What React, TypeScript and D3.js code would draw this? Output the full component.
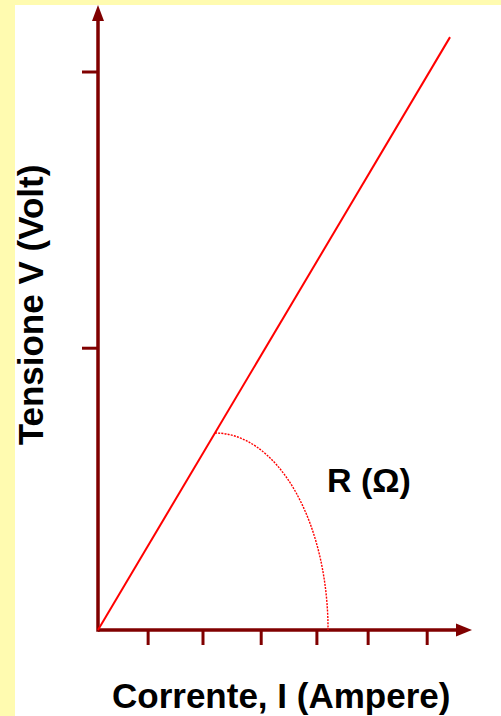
import React from "react";
import * as d3 from "d3";

// Ohm's law sketch: V = R · I
const current = [0, 6.32];          // I (ampere), ends of the drawn line
const voltage = [0, 2.125];         // V (volt)
const xTicks = [0.9, 1.885, 2.93, 3.93, 4.85, 5.91];
const yTicks = [1.01, 2.0];
const arcStartCurrent = 2.1;        // the arc leaves the V-I line here
const arcEndCurrent = 4.13;         // and lands on the I axis here
const xLabel = "Corrente, I (Ampere)";
const yLabel = "Tensione V (Volt)";
const arcLabel = "R (Ω)";

const W = 501;
const H = 716;
const origin = { x: 98, y: 630 };
const axisColor = "#800000";
const lineColor = "#ff0000";
const bg = "#fffbb0";
const font = "'Liberation Sans', Arial, Helvetica, sans-serif";

export default function App() {
  const x = d3.scaleLinear().domain([0, 1]).range([origin.x, origin.x + 55.7]);
  const y = d3.scaleLinear().domain([0, 1]).range([origin.y, origin.y - 279]);

  const pts: [number, number][] = current.map((c, i) => [c, voltage[i]]);
  const line = d3
    .line<[number, number]>()
    .x((d) => x(d[0]))
    .y((d) => y(d[1]));

  // voltage on the V-I line at the arc's starting current
  const vAt = d3.scaleLinear().domain(current).range(voltage);
  const ax0 = x(arcStartCurrent);
  const ay0 = y(vAt(arcStartCurrent));
  const ax1 = x(arcEndCurrent);
  const ay1 = y(0);
  // quarter ellipse from the line down to the current axis
  const rx = ax1 - ax0;
  const ry = ay1 - ay0;
  const arcD = `M${ax0},${ay0} A${rx},${ry} 0 0 1 ${ax1},${ay1}`;

  const xAxisEnd = 472;
  const yAxisEnd = 5;

  return (
    <svg
      width={W}
      height={H}
      style={{ position: "fixed", left: 0, top: 0, display: "block" }}
    >
      <rect x={0} y={0} width={W} height={H} fill={bg} />
      <rect x={15} y={5} width={W - 15} height={H - 5} fill="#ffffff" />

      {/* axes */}
      <line
        x1={origin.x}
        y1={origin.y}
        x2={xAxisEnd - 14}
        y2={origin.y}
        stroke={axisColor}
        strokeWidth={3.5}
      />
      <path
        d={`M${xAxisEnd},${origin.y} L${xAxisEnd - 16},${origin.y - 6.5} L${xAxisEnd - 16},${origin.y + 6.5} Z`}
        fill={axisColor}
      />
      <line
        x1={origin.x}
        y1={origin.y + 1.75}
        x2={origin.x}
        y2={yAxisEnd + 14}
        stroke={axisColor}
        strokeWidth={3.5}
      />
      <path
        d={`M${origin.x},${yAxisEnd} L${origin.x - 6},${yAxisEnd + 16} L${origin.x + 6},${yAxisEnd + 16} Z`}
        fill={axisColor}
      />

      {xTicks.map((t, i) => (
        <line
          key={`xt${i}`}
          x1={x(t)}
          x2={x(t)}
          y1={origin.y}
          y2={origin.y + 15}
          stroke={axisColor}
          strokeWidth={3}
        />
      ))}
      {yTicks.map((t, i) => (
        <line
          key={`yt${i}`}
          x1={origin.x - 16}
          x2={origin.x}
          y1={y(t)}
          y2={y(t)}
          stroke={axisColor}
          strokeWidth={3}
        />
      ))}

      {/* V-I line */}
      <path d={line(pts) || ""} fill="none" stroke={lineColor} strokeWidth={2} />

      {/* resistance arc */}
      <path
        d={arcD}
        fill="none"
        stroke={lineColor}
        strokeWidth={1.4}
        strokeDasharray="2 1.2"
      />

      <text
        x={327}
        y={492}
        fontFamily={font}
        fontWeight="bold"
        fontSize={34}
        fill="#000"
      >
        {arcLabel}
      </text>

      <text
        x={112}
        y={708}
        fontFamily={font}
        fontWeight="bold"
        fontSize={35}
        fill="#000"
      >
        {xLabel}
      </text>

      <text
        transform={`translate(43,305) rotate(-90)`}
        textAnchor="middle"
        fontFamily={font}
        fontWeight="bold"
        fontSize={35}
        fill="#000"
      >
        {yLabel}
      </text>
    </svg>
  );
}
